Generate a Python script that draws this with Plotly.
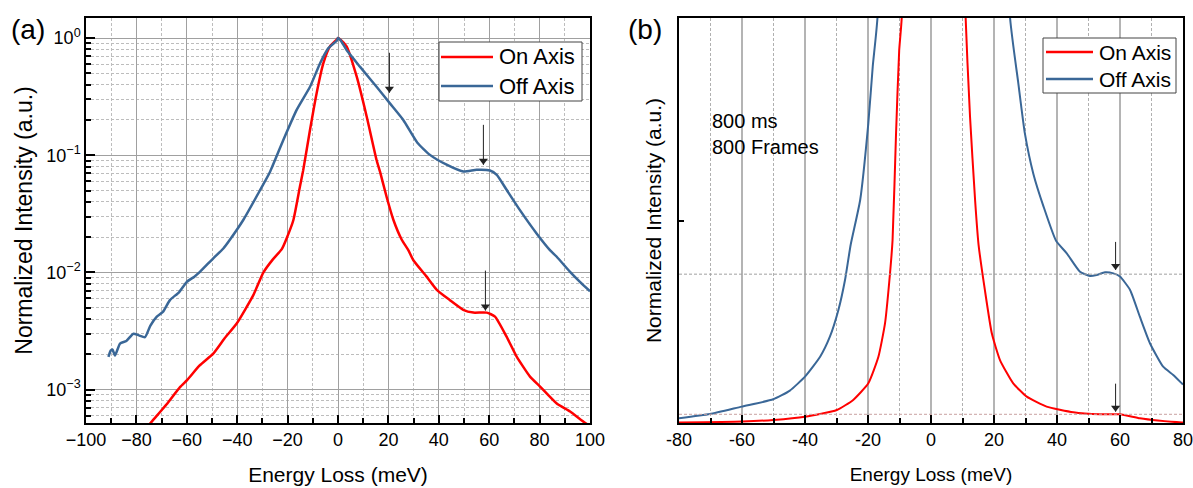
import math
import plotly.graph_objects as go

# ---------------- data: panel (a) (log scale) ----------------
a_on_E = [-78, -74, -68, -62.7, -59.8, -55, -49.5, -45, -40.2, -33.6, -29.6, -26, -22.3, -20.4,
          -17.7, -15.1, -13.8, -11.1, -8.5, -5.8, -3.2, -0.5, 0, 1, 3.4, 7.4, 11.4, 15.3, 16.7,
          19.3, 22, 25.3, 27.9, 29.9, 35, 39.2, 44.4, 49.7, 53.7, 59, 62.3, 66.9, 70.9, 76.2,
          80.2, 86.8, 92.1, 98, 100]
a_on_I = [4.2e-4, 5.3e-4, 7.5e-4, 1.05e-3, 1.21e-3, 1.6e-3, 2.03e-3, 2.74e-3, 3.66e-3, 6.4e-3,
          0.0100, 0.0128, 0.0158, 0.0195, 0.028, 0.054, 0.0746, 0.165, 0.337, 0.61, 0.85, 0.97,
          1.0, 0.97, 0.85, 0.47, 0.213, 0.091, 0.072, 0.044, 0.028, 0.019, 0.0155, 0.0127, 0.0093,
          0.0071, 0.0058, 0.0048, 0.00454, 0.00454, 0.0042, 0.00283, 0.00191, 0.00129, 0.00106,
          7.6e-4, 6.5e-4, 5.2e-4, 4.9e-4]

a_off_E = [-91.1, -90.2, -89.5, -88.5, -86.5, -84, -81.2, -79, -76.6, -74.5, -71.9, -69.5, -66.7,
           -63, -60, -57, -54.8, -49.5, -45.5, -42.9, -37.6, -31, -27, -21.7, -16.4, -11.1, -7.1,
           -3.8, -0.5, 0, 1, 3.4, 8.7, 15.3, 20.6, 25.9, 31.5, 36.5, 43.1, 49.7, 55, 60.3, 63,
           66.9, 72.2, 78.8, 84.1, 86.8, 92.1, 96, 100]
a_off_I = [1.9e-3, 2.15e-3, 2.2e-3, 1.95e-3, 2.47e-3, 2.6e-3, 3.0e-3, 2.9e-3, 2.8e-3, 3.5e-3,
           4.2e-3, 4.6e-3, 5.8e-3, 6.8e-3, 8.3e-3, 9.2e-3, 0.0101, 0.0132, 0.016, 0.019, 0.028,
           0.05, 0.072, 0.135, 0.244, 0.384, 0.61, 0.82, 0.95, 1.0, 0.96, 0.79, 0.57, 0.384, 0.277,
           0.2, 0.128, 0.1007, 0.083, 0.0727, 0.075, 0.074, 0.068, 0.0507, 0.034, 0.0215, 0.0155,
           0.0136, 0.0101, 0.0083, 0.0069]

# arrows in (a): energy and intensity at arrow tip
a_arrow_E = [20.4, 57.7, 58.5]
a_arrow_I = [0.341, 0.0828, 0.00472]

# ---------------- data: panel (b) (linear, zoomed) ----------------
b_on_E = [-80, -60, -50, -40, -29.9, -24.7, -19.9, -16.7, -14.6, -13.2, -12.2, -11.1, -10.1,
          -9.3, 0, 11, 12.4, 14, 15.1, 17.1, 19.3, 21.9, 26.1, 30.4, 36.7, 45.2, 53.7, 60, 66.3,
          72, 79.6, 80]
b_on_I = [0.0002, 0.0007, 0.0015, 0.0031, 0.0064, 0.0114, 0.0196, 0.0327, 0.0492, 0.0706, 0.0904,
          0.143, 0.184, 0.2, 1.0, 0.2, 0.151, 0.110, 0.088, 0.0657, 0.0443, 0.0311, 0.0196, 0.013,
          0.0081, 0.0053, 0.0043, 0.0043, 0.0023, 0.0012, 0.0003, 0.0003]

b_off_E = [-80, -70.2, -60.1, -50.1, -44.8, -40, -35.2, -32.1, -29.4, -27.3, -25.5, -22.5, -19.9,
           -18.5, -17, 0, 25.1, 27.7, 29.8, 32.5, 35.7, 39.7, 43.1, 47.3, 50.5, 52.6, 55.2, 57.9,
           60, 63.2, 66.3, 69.5, 73.7, 76.9, 79.6, 80]
b_off_I = [0.0023, 0.0044, 0.0081, 0.0117, 0.016, 0.0229, 0.0327, 0.0426, 0.0558, 0.0706, 0.088,
           0.110, 0.148, 0.176, 0.2, 1.0, 0.2, 0.168, 0.143, 0.123, 0.107, 0.090, 0.0838, 0.0747,
           0.0726, 0.0731, 0.0744, 0.0739, 0.0723, 0.0657, 0.0525, 0.0394, 0.0278, 0.0237, 0.0196,
           0.019]

# reference levels (dashed horizontal lines) and arrows in (b)
b_off_ref = 0.0735
b_on_ref = 0.0043
b_arrow_E = [58.6, 58.6]
b_arrow_I = [0.0756, 0.0056]

series_names = ["On Axis", "Off Axis"]
x_a_ticks = [-100, -80, -60, -40, -20, 0, 20, 40, 60, 80, 100]
x_b_ticks = [-80, -60, -40, -20, 0, 20, 40, 60, 80]
y_a_ticks = [1e-3, 1e-2, 1e-1, 1]
y_a_text = ["10<sup>\u22123</sup>", "10<sup>\u22122</sup>", "10<sup>\u22121</sup>", "10<sup>0</sup>"]

RED = "#ff0000"
BLUE = "#3a6797"
COLORS = [RED, BLUE]
ARROW = "#222222"
FONT = "Liberation Sans, Arial, sans-serif"
W, H = 1193, 488

# geometry of the two plot areas (pixels)
A_L, A_R, B_L, B_R, TOP, BOT = 86, 590, 679, 1183, 18, 423
A_RANGE = [-3.285, 0.171]
B_RANGE = [0, 0.2]
PX_PER_DEC = (BOT - TOP) / (A_RANGE[1] - A_RANGE[0])
PX_PER_UNIT_B = (BOT - TOP) / (B_RANGE[1] - B_RANGE[0])

fig = go.Figure()
fig.add_trace(go.Scatter(x=a_on_E, y=a_on_I, mode="lines", name=series_names[0],
                         line=dict(color=RED, width=2.5, shape="spline", smoothing=0.5),
                         xaxis="x", yaxis="y"))
fig.add_trace(go.Scatter(x=a_off_E, y=a_off_I, mode="lines", name=series_names[1],
                         line=dict(color=BLUE, width=2.5, shape="spline", smoothing=0.5),
                         xaxis="x", yaxis="y"))
fig.add_trace(go.Scatter(x=b_on_E, y=b_on_I, mode="lines", name=series_names[0],
                         line=dict(color=RED, width=2, shape="spline", smoothing=0.5),
                         xaxis="x2", yaxis="y2"))
fig.add_trace(go.Scatter(x=b_off_E, y=b_off_I, mode="lines", name=series_names[1],
                         line=dict(color=BLUE, width=2, shape="spline", smoothing=0.5),
                         xaxis="x2", yaxis="y2"))


# arrows drawn as short vertical segments with a triangular head
def add_arrow(e, tip, tail, head_center, xa, ya):
    fig.add_trace(go.Scatter(x=[e, e], y=[tail, tip], mode="lines", showlegend=False,
                             hoverinfo="skip", line=dict(color=ARROW, width=1),
                             xaxis=xa, yaxis=ya))
    fig.add_trace(go.Scatter(x=[e], y=[head_center], mode="markers", showlegend=False,
                             hoverinfo="skip",
                             marker=dict(symbol="triangle-down", size=8, color=ARROW,
                                         line=dict(width=0)),
                             xaxis=xa, yaxis=ya))


for e, v in zip(a_arrow_E, a_arrow_I):
    add_arrow(e, v, v * 10 ** (40 / PX_PER_DEC), v * 10 ** (4 / PX_PER_DEC), "x", "y")
for e, v in zip(b_arrow_E, b_arrow_I):
    add_arrow(e, v, v + 28 / PX_PER_UNIT_B, v + 4 / PX_PER_UNIT_B, "x2", "y2")

minor_log = [m * 10 ** d for d in range(-4, 1) for m in range(2, 10)]

axis_common = dict(showline=True, linecolor="black", linewidth=1.5, mirror=True,
                   ticks="inside", tickcolor="black", tickwidth=1.5, zeroline=False,
                   automargin=False)

fig.update_layout(
    width=W, height=H, margin=dict(l=0, r=0, t=0, b=0, autoexpand=False),
    paper_bgcolor="white", plot_bgcolor="white",
    font=dict(family=FONT, color="black"),
    showlegend=False,
    xaxis=dict(domain=[A_L / W, A_R / W], anchor="y", range=[-100, 100],
               tickvals=x_a_ticks, ticklen=8, tickfont=dict(size=18),
               ticklabeloverflow="allow",
               showgrid=True, gridcolor="#a0a0a0", gridwidth=1,
               minor=dict(dtick=10, tick0=0, ticks="inside", ticklen=5, tickcolor="black",
                          showgrid=True, gridcolor="#bdbdbd", griddash="3px,2px", gridwidth=1),
               title=dict(text="Energy Loss (meV)", font=dict(size=21), standoff=18),
               **axis_common),
    yaxis=dict(domain=[1 - BOT / H, 1 - TOP / H], anchor="x", type="log",
               range=A_RANGE, tickvals=y_a_ticks, ticktext=y_a_text,
               ticklen=9, tickfont=dict(size=18),
               showgrid=True, gridcolor="#a0a0a0", gridwidth=1,
               minor=dict(tickvals=minor_log, ticks="inside", ticklen=5, tickcolor="black",
                          showgrid=True, gridcolor="#bdbdbd", griddash="3px,2px", gridwidth=1),
               title=dict(text="Normalized Intensity (a.u.)", font=dict(size=23), standoff=7),
               **axis_common),
    xaxis2=dict(domain=[B_L / W, B_R / W], anchor="y2", range=[-80, 80],
                tickvals=x_b_ticks, ticktext=[str(v) for v in x_b_ticks],
                ticklen=8, tickfont=dict(size=18), ticklabeloverflow="allow",
                showgrid=True, gridcolor="#b4b4b4", gridwidth=1.5,
                minor=dict(dtick=10, tick0=0, ticks="inside", ticklen=5, tickcolor="black",
                           showgrid=True, gridcolor="#b0b0b0", griddash="3px,2px", gridwidth=1),
                title=dict(text="Energy Loss (meV)", font=dict(size=19), standoff=18),
                **axis_common),
    yaxis2=dict(domain=[1 - BOT / H, 1 - TOP / H], anchor="x2", range=B_RANGE,
                tickvals=[0.1], showticklabels=False, ticklen=5, showgrid=False,
                title=dict(text="Normalized Intensity (a.u.)", font=dict(size=21), standoff=10),
                **axis_common),
)

# dashed reference lines in (b)
fig.add_shape(type="line", xref="x2", yref="y2", x0=-80, x1=80, y0=b_off_ref, y1=b_off_ref,
              line=dict(color="#a0a0a0", width=1, dash="3px,2px"))
fig.add_shape(type="line", xref="x2", yref="y2", x0=-80, x1=80, y0=b_on_ref, y1=b_on_ref,
              line=dict(color="#c8a0a0", width=1, dash="3px,2px"))


# legend boxes (drawn to match the original's long line samples)
def draw_legend(box, rows, line_x, text_x, size):
    x0, y0, x1, y1 = box
    fig.add_shape(type="rect", xref="paper", yref="paper", x0=x0 / W, x1=x1 / W,
                  y0=1 - y1 / H, y1=1 - y0 / H, line=dict(color="#444", width=1),
                  fillcolor="white", layer="above")
    for name, color, yy in zip(series_names, COLORS, rows):
        fig.add_shape(type="line", xref="paper", yref="paper", x0=line_x[0] / W,
                      x1=line_x[1] / W, y0=1 - yy / H, y1=1 - yy / H,
                      line=dict(color=color, width=2.5), layer="above")
        fig.add_annotation(x=text_x / W, y=1 - yy / H, xref="paper", yref="paper", text=name,
                           showarrow=False, xanchor="left", yanchor="middle",
                           font=dict(size=size))


draw_legend((439, 42, 582, 101), (57, 86), (441, 493), 497, 22)
draw_legend((1043, 38, 1176, 93), (52, 79), (1046, 1093), 1097, 21)

# panel labels and notes
fig.add_annotation(x=9 / W, y=1 - 29 / H, xref="paper", yref="paper", text="(a)",
                   showarrow=False, xanchor="left", yanchor="middle", font=dict(size=28))
fig.add_annotation(x=626 / W, y=1 - 29 / H, xref="paper", yref="paper", text="(b)",
                   showarrow=False, xanchor="left", yanchor="middle", font=dict(size=28))
fig.add_annotation(x=710 / W, y=1 - 133.5 / H, xref="paper", yref="paper",
                   text="800 ms<br>800 Frames", align="left",
                   showarrow=False, xanchor="left", yanchor="middle", font=dict(size=20))

fig.write_html("out.html", config={"displayModeBar": False},
               post_script="document.body.style.margin='0';")
